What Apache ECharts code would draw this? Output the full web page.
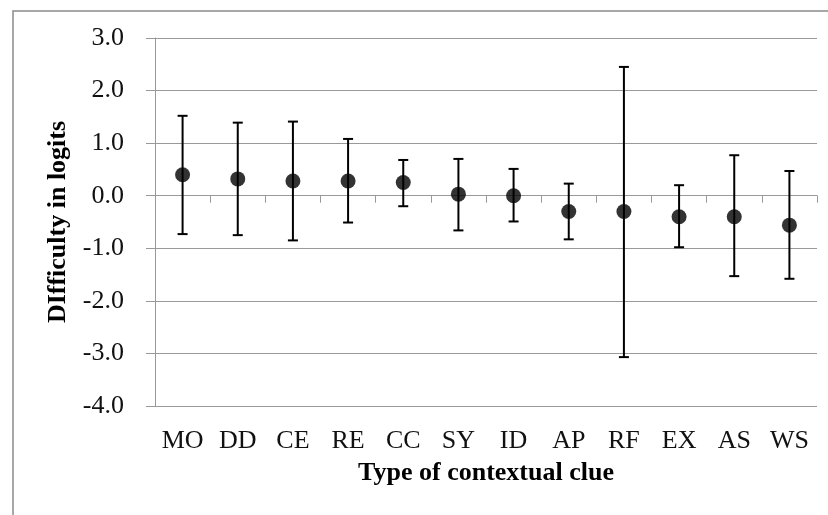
<!DOCTYPE html>
<html>
<head>
<meta charset="utf-8">
<script src="https://cdn.jsdelivr.net/npm/echarts@6/dist/echarts.min.js"></script>
<style>html,body{margin:0;padding:0;background:#fff;}#c{width:828px;height:515px;}</style>
</head>
<body>
<div id="c"></div>
<script>
var categories = ['MO','DD','CE','RE','CC','SY','ID','AP','RF','EX','AS','WS'];
var difficulty = [0.40, 0.32, 0.28, 0.28, 0.25, 0.03, 0.00, -0.30, -0.30, -0.40, -0.40, -0.56];
var upper = [1.52, 1.39, 1.41, 1.08, 0.68, 0.70, 0.51, 0.23, 2.45, 0.20, 0.77, 0.47];
var lower = [-0.73, -0.75, -0.85, -0.51, -0.20, -0.66, -0.49, -0.83, -3.07, -0.98, -1.53, -1.58];
var yTicks = {min: -4, max: 3, interval: 1};

var chart = echarts.init(document.getElementById('c'));
var serif = "'Liberation Serif','Times New Roman',serif";
var errData = categories.map(function(c, i){ return [i, lower[i], upper[i]]; });

chart.setOption({
  animation: false,
  backgroundColor: '#fff',
  graphic: [{
    type: 'rect', silent: true, z: -10,
    shape: {x: 13, y: 11, width: 840, height: 540},
    style: {fill: 'none', stroke: '#8a8a8a', lineWidth: 1.5}
  }],
  grid: {left: 155, right: 11, top: 38, bottom: 109},
  xAxis: [{
    type: 'category', data: categories, boundaryGap: true,
    axisLine: {onZero: true, lineStyle: {color: '#999', width: 1}},
    axisTick: {show: true, length: 7, lineStyle: {color: '#999'}},
    axisLabel: {show: false},
    splitLine: {show: false}
  }, {
    type: 'category', data: categories, position: 'bottom',
    axisLine: {show: false, onZero: false},
    axisTick: {show: false},
    axisLabel: {show: true, margin: 22, fontFamily: serif, fontSize: 26, color: '#111'},
    name: 'Type of contextual clue', nameLocation: 'middle', nameGap: 54,
    nameTextStyle: {fontFamily: serif, fontSize: 26, fontWeight: 'bold', color: '#000'}
  }],
  yAxis: {
    type: 'value', min: yTicks.min, max: yTicks.max, interval: yTicks.interval,
    axisLine: {show: true, lineStyle: {color: '#999', width: 1}},
    axisTick: {show: true, length: 9, lineStyle: {color: '#999'}},
    axisLabel: {margin: 31, fontFamily: serif, fontSize: 26, color: '#111',
      formatter: function(v){ return v.toFixed(1); }},
    splitLine: {show: true, lineStyle: {color: '#999', width: 1}},
    name: 'DIfficulty in logits', nameLocation: 'middle', nameGap: 84, nameRotate: 90,
    nameTextStyle: {fontFamily: serif, fontSize: 26, fontWeight: 'bold', color: '#000'}
  },
  series: [{
    type: 'custom', xAxisIndex: 0, data: errData, z: 3,
    renderItem: function(params, api){
      var x = api.value(0);
      var lo = api.coord([x, api.value(1)]);
      var hi = api.coord([x, api.value(2)]);
      var hw = 5;
      var st = {stroke: '#000', lineWidth: 2};
      return {type: 'group', children: [
        {type: 'line', shape: {x1: lo[0], y1: lo[1], x2: hi[0], y2: hi[1]}, style: st},
        {type: 'line', shape: {x1: hi[0]-hw, y1: hi[1], x2: hi[0]+hw, y2: hi[1]}, style: st},
        {type: 'line', shape: {x1: lo[0]-hw, y1: lo[1], x2: lo[0]+hw, y2: lo[1]}, style: st}
      ]};
    }
  }, {
    type: 'scatter', xAxisIndex: 0, data: difficulty, symbol: 'circle', symbolSize: 15, z: 4,
    itemStyle: {color: '#000'}
  }]
});
</script>
</body>
</html>
